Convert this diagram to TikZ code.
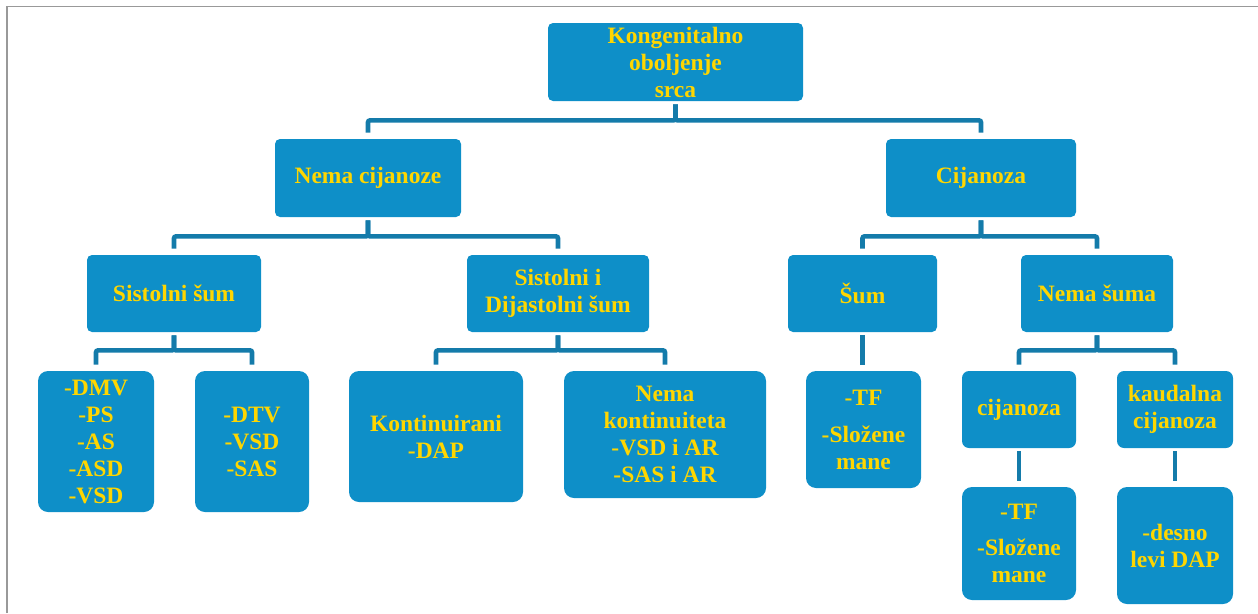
\documentclass[tikz,border=0pt]{standalone}
\usepackage{fontspec}
\setmainfont{Liberation Serif}
\usepackage{xcolor}
\definecolor{boxblue}{RGB}{14,143,200}
\definecolor{lineblue}{RGB}{20,123,170}
\definecolor{textgold}{RGB}{255,214,0}

\begin{document}
\begin{tikzpicture}[x=1pt,y=-1pt,thick,
    main node/.style={rectangle,rounded corners=5pt,fill=boxblue,text=textgold,inner sep=0pt,align=center,
        font=\fontsize{23.5}{27}\selectfont\bfseries},
    leaf node/.style={main node,rounded corners=10pt},
    link/.style={draw=lineblue,line width=4.6pt,rounded corners=2pt,shorten <=3pt,shorten >=6pt}]
                \useasboundingbox (0,0) rectangle (1258,613);
                \draw[line width=1.5pt,color=black!40] (7,613) -- (7,6.5) -- (1258,6.5);

                \node[main node,minimum width=255pt,minimum height=78pt] (root) at (675.5,62) {Kongenitalno\\oboljenje\\srca};
                \node[main node,minimum width=186pt,minimum height=78pt] (nocy) at (368,178) {Nema cijanoze};
                \node[main node,minimum width=190pt,minimum height=78pt] (cy) at (981,178) {Cijanoza};

                \node[main node,minimum width=174pt,minimum height=77pt] (sis) at (174,293.5) {Sistolni šum};
                \node[main node,minimum width=182pt,minimum height=77pt] (sisdij) at (558,293.5) {Sistolni i\\Dijastolni šum};
                \node[main node,minimum width=149pt,minimum height=77pt] (sum) at (862.5,293.5) {Šum};
                \node[main node,minimum width=152pt,minimum height=77pt] (nosum) at (1097,293.5) {Nema šuma};

                \node[leaf node,minimum width=116pt,minimum height=141pt] (dmv) at (96,441.5) {-DMV\\-PS\\-AS\\-ASD\\-VSD};
                \node[leaf node,minimum width=114pt,minimum height=141pt] (dtv) at (252,441.5) {-DTV\\-VSD\\-SAS};
                \node[leaf node,minimum width=174pt,minimum height=131pt] (kont) at (436,436.5) {Kontinuirani\\-DAP};
                \node[leaf node,minimum width=202pt,minimum height=127pt] (nokont) at (665,434.5) {Nema\\kontinuiteta\\-VSD i AR\\-SAS i AR};
                \node[leaf node,minimum width=115pt,minimum height=117pt] (tfa) at (863.5,429.5) {-TF\\[10pt]-Složene\\mane};
                \node[main node,rounded corners=7pt,minimum width=114pt,minimum height=77pt] (cyl) at (1019,409.5) {cijanoza};
                \node[main node,rounded corners=7pt,minimum width=116pt,minimum height=77pt] (kaud) at (1175,409.5) {kaudalna\\cijanoza};

                \node[leaf node,minimum width=114pt,minimum height=113pt] (tfb) at (1019,543.5) {-TF\\[9pt]-Složene\\mane};
                \node[leaf node,minimum width=116pt,minimum height=117pt] (desno) at (1175,545.5) {-desno\\levi DAP};

                % branches
                \draw[link] (root.south) -- ++(0,19) -| (nocy.north);
                \draw[link] (root.south) -- ++(0,19) -| (cy.north);
                \draw[link] (nocy.south) -- ++(0,19) -| (sis.north);
                \draw[link] (nocy.south) -- ++(0,19) -| (sisdij.north);
                \draw[link] (cy.south) -- ++(0,19) -| (sum.north);
                \draw[link] (cy.south) -- ++(0,19) -| (nosum.north);
                \draw[link] (sis.south) -- ++(0,18) -| (dmv.north);
                \draw[link] (sis.south) -- ++(0,18) -| (dtv.north);
                \draw[link] (sisdij.south) -- ++(0,18) -| (kont.north);
                \draw[link] (sisdij.south) -- ++(0,18) -| (nokont.north);
                \draw[link] (sum.south) -- (sum.south |- tfa.north);
                \draw[link] (nosum.south) -- ++(0,18) -| (cyl.north);
                \draw[link] (nosum.south) -- ++(0,18) -| (kaud.north);
                \draw[link] (cyl.south) -- (tfb.north);
                \draw[link] (kaud.south) -- (desno.north);
            \end{tikzpicture}
\end{document}
